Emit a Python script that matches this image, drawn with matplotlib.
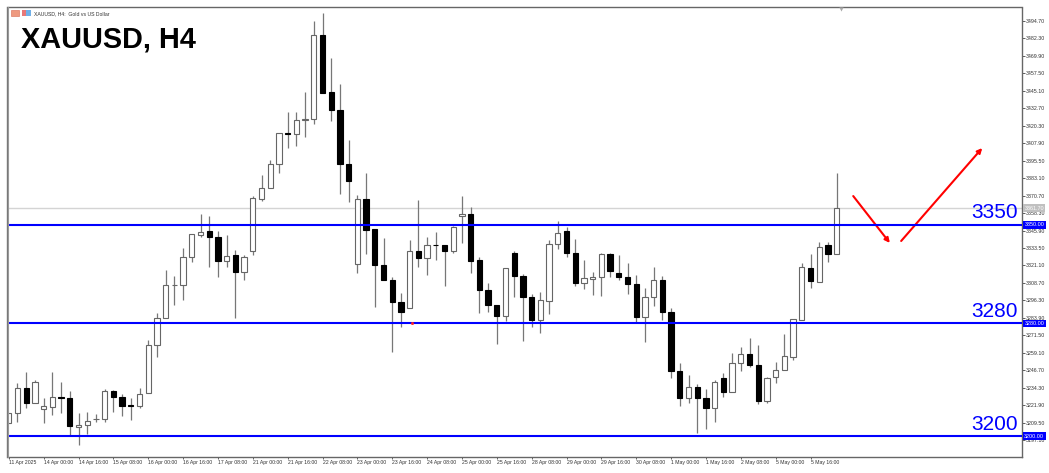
import matplotlib
matplotlib.use('Agg')
import matplotlib.pyplot as plt
from matplotlib.patches import Rectangle

plt.rcParams['font.family'] = ['Liberation Sans', 'DejaVu Sans']

opens = [3209.1, 3216.2, 3233.9, 3223.5, 3219.2, 3220.8, 3227.5, 3227.0, 3206.2, 3207.6, 3211.9, 3211.9,
         3232.2, 3227.9, 3221.9, 3221.3, 3230.4, 3264.4, 3283.6, 3307.2, 3307.5, 3327.3, 3342.8, 3345.6,
         3341.5, 3324.3, 3328.5, 3316.3, 3331.6, 3368.5, 3376.3, 3392.9, 3415.0, 3414.2, 3424.4, 3425.1,
         3484.5, 3444.1, 3431.3, 3393.2, 3322.2, 3368.1, 3346.8, 3321.4, 3310.6, 3295.2, 3290.7, 3331.6,
         3326.2, 3336.0, 3335.6, 3331.4, 3356.0, 3357.4, 3325.0, 3303.7, 3292.8, 3285.5, 3329.8, 3313.8,
         3298.9, 3282.6, 3295.9, 3336.6, 3345.4, 3330.0, 3308.9, 3311.7, 3312.7, 3329.0, 3315.6, 3312.9,
         3307.7, 3284.3, 3298.5, 3311.0, 3288.1, 3246.4, 3226.8, 3235.0, 3226.8, 3219.7, 3241.0, 3231.3,
         3251.7, 3258.0, 3250.7, 3225.1, 3241.7, 3246.7, 3256.3, 3282.6, 3319.5, 3309.6, 3335.9, 3329.5]
highs = [3216.2, 3237.9, 3245.7, 3239.8, 3227.2, 3245.7, 3238.4, 3232.0, 3216.2, 3216.9, 3215.4, 3233.2,
         3232.4, 3230.1, 3227.2, 3233.9, 3268.0, 3287.4, 3317.9, 3313.9, 3333.3, 3343.3, 3357.4, 3356.2,
         3345.6, 3342.8, 3332.1, 3328.5, 3370.4, 3385.4, 3396.0, 3415.0, 3430.3, 3430.3, 3444.3, 3494.7,
         3500.2, 3468.2, 3449.7, 3410.2, 3371.2, 3386.6, 3346.8, 3340.4, 3313.1, 3301.4, 3339.2, 3367.6,
         3341.5, 3344.7, 3335.6, 3349.1, 3370.6, 3362.8, 3326.9, 3308.5, 3292.8, 3319.5, 3331.4, 3315.1,
         3300.9, 3302.5, 3339.2, 3352.9, 3348.6, 3339.9, 3325.0, 3316.3, 3329.8, 3330.0, 3328.3, 3323.1,
         3314.4, 3304.9, 3319.8, 3313.6, 3290.7, 3251.6, 3243.3, 3236.7, 3233.4, 3239.8, 3244.6, 3258.8,
         3263.4, 3269.4, 3264.6, 3241.7, 3252.8, 3272.5, 3282.9, 3322.7, 3329.0, 3337.8, 3337.8, 3387.0]
lows = [3209.1, 3210.2, 3219.7, 3223.5, 3209.1, 3214.9, 3216.6, 3200.0, 3193.7, 3201.5, 3210.2, 3209.8,
        3217.3, 3214.2, 3211.4, 3220.1, 3230.4, 3255.9, 3283.6, 3293.0, 3296.6, 3323.8, 3341.5, 3320.2,
        3312.7, 3320.2, 3284.0, 3310.8, 3328.5, 3366.9, 3376.3, 3386.6, 3404.7, 3405.9, 3412.1, 3421.6,
        3443.4, 3423.9, 3371.6, 3366.4, 3315.6, 3329.3, 3291.8, 3310.6, 3259.9, 3277.6, 3290.7, 3320.2,
        3314.4, 3325.0, 3306.5, 3330.2, 3337.3, 3316.0, 3287.2, 3288.3, 3265.1, 3281.9, 3298.5, 3267.7,
        3277.6, 3273.4, 3286.9, 3332.8, 3327.3, 3306.5, 3304.6, 3300.2, 3299.4, 3313.1, 3310.6, 3300.9,
        3280.1, 3267.0, 3292.6, 3282.4, 3241.4, 3221.3, 3223.7, 3201.9, 3205.0, 3209.8, 3227.5, 3231.3,
        3246.4, 3249.2, 3222.8, 3223.3, 3237.5, 3246.7, 3254.0, 3282.6, 3305.3, 3309.2, 3323.4, 3329.5]
closes = [3216.2, 3233.9, 3223.3, 3238.4, 3221.1, 3227.5, 3227.0, 3206.9, 3207.9, 3210.9, 3212.1, 3232.2,
          3227.7, 3221.6, 3221.6, 3229.6, 3264.6, 3283.6, 3307.2, 3307.2, 3327.3, 3343.3, 3345.1, 3341.5,
          3324.3, 3328.1, 3316.3, 3327.3, 3368.8, 3376.3, 3392.9, 3415.0, 3414.5, 3424.2, 3425.3, 3484.5,
          3443.8, 3431.3, 3393.2, 3381.1, 3368.1, 3346.3, 3321.4, 3310.6, 3295.0, 3288.1, 3331.6, 3326.2,
          3335.6, 3335.6, 3331.6, 3348.6, 3357.4, 3324.5, 3303.9, 3292.8, 3285.5, 3319.1, 3313.6, 3298.9,
          3282.6, 3296.4, 3336.6, 3344.0, 3330.0, 3308.9, 3312.0, 3312.7, 3329.0, 3317.2, 3312.9, 3307.7,
          3284.3, 3298.5, 3310.6, 3288.1, 3246.4, 3226.8, 3235.0, 3227.2, 3219.7, 3238.4, 3231.3, 3251.7,
          3258.0, 3250.4, 3225.1, 3241.0, 3246.7, 3256.6, 3282.9, 3319.8, 3309.9, 3334.0, 3329.5, 3361.7]

price_ticks = [3494.70, 3482.30, 3469.90, 3457.50, 3445.10, 3432.70, 3420.30, 3407.90, 3395.50, 3383.10,
               3370.70, 3358.30, 3345.90, 3333.50, 3321.10, 3308.70, 3296.30, 3283.90, 3271.50, 3259.10,
               3246.70, 3234.30, 3221.90, 3209.50, 3197.10]
time_labels = ['11 Apr 2025', '14 Apr 00:00', '14 Apr 16:00', '15 Apr 08:00', '16 Apr 00:00', '16 Apr 16:00',
               '17 Apr 08:00', '21 Apr 00:00', '21 Apr 16:00', '22 Apr 08:00', '23 Apr 00:00', '23 Apr 16:00',
               '24 Apr 08:00', '25 Apr 00:00', '25 Apr 16:00', '28 Apr 08:00', '29 Apr 00:00', '29 Apr 16:00',
               '30 Apr 08:00', '1 May 00:00', '1 May 16:00', '2 May 08:00', '5 May 00:00', '5 May 16:00']
levels = [3350, 3280, 3200]
last_price = 3361.7

W, H = 1049, 473
fig = plt.figure(figsize=(W / 100, H / 100), dpi=100)
ax = fig.add_axes([8 / W, 1 - 457 / H, (1022.3 - 8) / W, (457 - 7.5) / H])
ax.set_xlim(-0.09, 116.3)
ax.set_ylim(3185.1, 3504.3)

for s in ax.spines.values():
    s.set_color('#666666')
    s.set_linewidth(1.0)
ax.spines['left'].set_visible(False)
# doubled line on the left edge of the terminal window
fig.add_artist(plt.Line2D([6.5 / W, 6.5 / W], [1 - 457 / H, 1 - 7.5 / H], color='#777777', lw=1.0))
fig.add_artist(plt.Line2D([8.2 / W, 8.2 / W], [1 - 457 / H, 1 - 7.5 / H], color='#999999', lw=0.8))

# last price line under the candles
ax.axhline(last_price, color='#d4d4d4', lw=1.0, zorder=1)

for i, (o, h, l, c) in enumerate(zip(opens, highs, lows, closes)):
    ax.vlines(i, l, h, color='#777777', lw=0.9, zorder=2)
    bull = c >= o
    ax.add_patch(Rectangle((i - 0.3, min(o, c)), 0.6, max(abs(c - o), 0.01),
                           facecolor='white' if bull else 'black',
                           edgecolor='#666666' if bull else 'black', lw=0.8, zorder=3))

for lv in levels:
    ax.axhline(lv, color='#0000ff', lw=1.5, zorder=4)
    ax.text(0.9958, lv + 4.6, str(lv), transform=ax.get_yaxis_transform(), ha='right', va='baseline',
            fontsize=15, color='#0000ff', zorder=5)

ax.yaxis.tick_right()
ax.set_yticks(price_ticks)
ax.set_yticklabels(['%.2f' % p for p in price_ticks])
ax.tick_params(axis='y', length=2, width=0.6, pad=0.3, labelsize=3.8, labelcolor='#333333', color='#444444')
ax.set_xticks(range(0, 4 * len(time_labels), 4))
ax.set_xticklabels(time_labels, ha='left')
ax.tick_params(axis='x', length=1.5, width=0.6, pad=0.6, labelsize=3.7, labelcolor='#333333', color='#444444')

# price tags on the right scale
for lv in levels:
    ax.annotate('%.2f' % lv, (1, lv), xycoords=ax.get_yaxis_transform(), xytext=(12, 0),
                textcoords='offset pixels', ha='center', va='center', fontsize=3.9, color='white',
                bbox=dict(boxstyle='square,pad=0.25', fc='#0000ff', ec='none'), zorder=6, annotation_clip=False)
ax.annotate('%.2f' % last_price, (1, last_price), xycoords=ax.get_yaxis_transform(), xytext=(12, 0),
            textcoords='offset pixels', ha='center', va='center', fontsize=3.9, color='white',
            bbox=dict(boxstyle='square,pad=0.25', fc='#c0c0c0', ec='none'), zorder=6, annotation_clip=False)

# hand drawn scenario arrows
arrow = dict(arrowstyle='-|>', color='#ff0000', lw=1.5, mutation_scale=7, shrinkA=0, shrinkB=0)
ax.annotate('', xy=(101.1, 3337.1), xytext=(96.9, 3370.4), arrowprops=arrow)
ax.annotate('', xy=(111.7, 3404.5), xytext=(102.4, 3338.5), arrowprops=arrow)
ax.plot([46.3], [3280.4], marker='s', ms=1.0, color='#ff2020', zorder=6)
# small marker hanging from the top edge
ax.plot([95.5], [3503.2], marker='v', ms=3, color='#aaaaaa', mec='none', zorder=6, clip_on=False)

fig.text(21 / W, 1 - 48 / H, 'XAUUSD, H4', fontsize=20.8, fontweight='bold', color='black', va='baseline')
fig.text(34 / W, 1 - 13.3 / H, 'XAUUSD, H4:  Gold vs US Dollar', fontsize=3.7, color='#333333', va='center')
fig.add_artist(Rectangle((11 / W, 1 - 16 / H), 8 / W, 6 / H, transform=fig.transFigure, fc='#ee9a80', ec='#d86a50', lw=0.4))
fig.add_artist(Rectangle((22 / W, 1 - 16 / H), 4 / W, 6 / H, transform=fig.transFigure, fc='#e87878', ec='none'))
fig.add_artist(Rectangle((26 / W, 1 - 16 / H), 5 / W, 6 / H, transform=fig.transFigure, fc='#70b0e8', ec='none'))

fig.savefig('out.png', dpi=100)
